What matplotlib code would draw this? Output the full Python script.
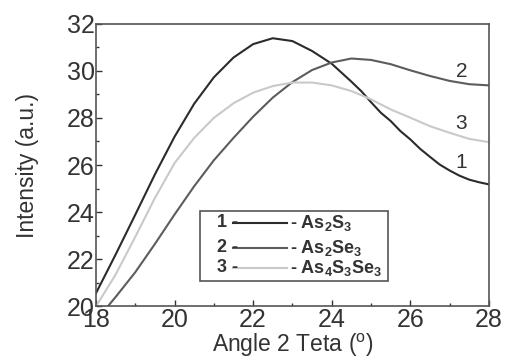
import matplotlib
matplotlib.use("Agg")
import matplotlib.pyplot as plt
from matplotlib.patches import Rectangle
from matplotlib.ticker import MultipleLocator

plt.rcParams['font.family'] = 'Liberation Sans'
plt.rcParams['mathtext.fontset'] = 'custom'
plt.rcParams['mathtext.rm'] = 'Liberation Sans'
plt.rcParams['mathtext.bf'] = 'Liberation Sans:bold'

# diffraction halo, three glasses
angle_s = [18, 18.5, 19, 19.5, 20, 20.5, 21, 21.5, 22, 22.5, 23, 23.5, 24,
           24.25, 24.5, 24.75, 25, 25.25, 25.5, 25.75, 26, 26.25, 26.5, 26.75,
           27, 27.25, 27.5, 27.75, 28]
as2s3 = [20.56, 22.2, 23.89, 25.6, 27.2, 28.6, 29.72, 30.56, 31.13, 31.38, 31.26, 30.84, 30.3,
         29.92, 29.54, 29.14, 28.67, 28.22, 27.87, 27.44, 27.09, 26.69, 26.35, 26.02,
         25.77, 25.55, 25.38, 25.27, 25.18]

angle_se = [18.3, 18.5, 19, 19.5, 20, 20.5, 21, 21.5, 22, 22.5, 23,
            23.5, 24, 24.5, 25, 25.5, 26, 26.5, 27, 27.5, 28]
as2se3 = [20.0, 20.4, 21.45, 22.65, 23.9, 25.1, 26.2, 27.15, 28.05, 28.86, 29.52,
          30.03, 30.35, 30.52, 30.46, 30.28, 30.02, 29.78, 29.57, 29.43, 29.38]

angle_sse = [18, 18.5, 19, 19.5, 20, 20.5, 21, 21.5, 22, 22.5, 23,
             23.5, 24, 24.5, 25, 25.5, 26, 26.5, 27, 27.5, 28]
as4s3se3 = [20.0, 21.35, 22.95, 24.6, 26.08, 27.15, 28.0, 28.62, 29.07, 29.35, 29.5,
            29.5, 29.38, 29.14, 28.79, 28.36, 28.01, 27.65, 27.37, 27.11, 26.97]

curve_labels = ["1", "2", "3"]
legend_names = [r"- As$_\mathbf{2}$S$_\mathbf{3}$",
                r"- As$_\mathbf{2}$Se$_\mathbf{3}$",
                r"- As$_\mathbf{4}$S$_\mathbf{3}$Se$_\mathbf{3}$"]
colors = ["#2b2b2b", "#5c5c5c", "#c9c9c9"]
ink = "#333333"

fig = plt.figure(figsize=(5.05, 3.58), dpi=100)
ax = fig.add_axes([0.190, 0.144, 0.778, 0.790])

ax.plot(angle_s, as2s3, color=colors[0], lw=1.5, solid_joinstyle='round')
ax.plot(angle_se, as2se3, color=colors[1], lw=1.5, solid_joinstyle='round')
ax.plot(angle_sse, as4s3se3, color=colors[2], lw=1.5, solid_joinstyle='round')

ax.set_xlim(18, 28)
ax.set_ylim(20, 32)
ax.xaxis.set_major_locator(MultipleLocator(2))
ax.xaxis.set_minor_locator(MultipleLocator(1))
ax.yaxis.set_major_locator(MultipleLocator(2))
ax.yaxis.set_minor_locator(MultipleLocator(1))
ax.tick_params(which='both', direction='in', colors=ink, labelcolor=ink,
               top=False, right=False, width=1.0)
ax.tick_params(which='major', length=4.5, labelsize=18, pad=1)
ax.tick_params(which='minor', length=2.5)
for s in ax.spines.values():
    s.set_color("#555555")
    s.set_linewidth(1.2)

ax.set_xlabel(r"Angle 2 Teta ($^\mathregular{o}$)", fontsize=16.5, color=ink, labelpad=0)
ax.set_ylabel("Intensity (a.u.)", fontsize=16.5, color=ink, labelpad=20)

# numbers at the right-hand ends of the curves
ax.text(27.3, 29.97, "2", fontsize=15, color=ink, ha='center', va='center')
ax.text(27.3, 27.77, "3", fontsize=15, color=ink, ha='center', va='center')
ax.text(27.3, 26.09, "1", fontsize=15, color=ink, ha='center', va='center')

# hand-made legend box
ax.add_patch(Rectangle((20.66, 21.06), 4.77, 3.0, fill=False,
                       edgecolor="#555555", lw=1.2))
rows = [23.55, 22.49, 21.64]
for lab, name, c, y in zip(curve_labels, legend_names, colors, rows):
    ax.text(21.07, y, lab + " -", fontsize=13, fontweight='bold', color=ink,
            ha='left', va='center')
    ax.plot([21.49, 22.85], [y, y], color=c, lw=1.5)
    ax.text(22.94, y, name, fontsize=13, fontweight='bold', color=ink,
            ha='left', va='center')

fig.savefig("out.png", dpi=100)
